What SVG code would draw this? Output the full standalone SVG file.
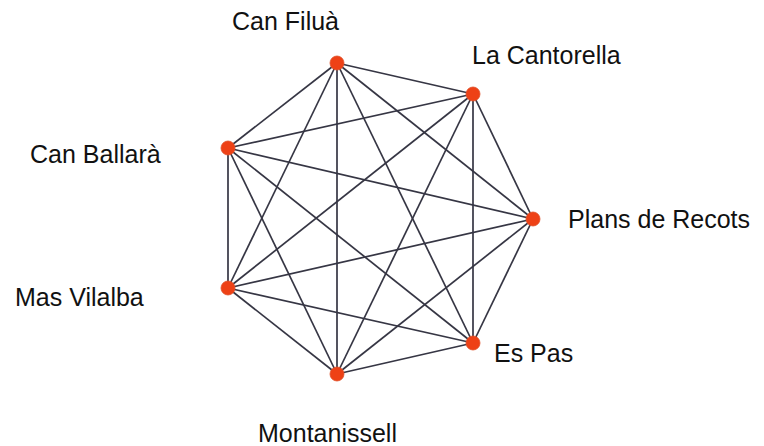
<svg xmlns="http://www.w3.org/2000/svg" width="764" height="446" viewBox="0 0 764 446">
<style>
.e{stroke:#363644;stroke-width:1.7;fill:none}
.n{fill:#ee4116;stroke:#e0502a;stroke-width:0.8}
.t{font-family:"Liberation Sans",Arial,sans-serif;font-size:25px;fill:#111}
</style>
<rect width="764" height="446" fill="#fff"/>
<g id="edges">
<line class="e" x1="337" y1="63" x2="473" y2="94"/>
<line class="e" x1="337" y1="63" x2="533" y2="219"/>
<line class="e" x1="337" y1="63" x2="473" y2="343"/>
<line class="e" x1="337" y1="63" x2="337" y2="374"/>
<line class="e" x1="337" y1="63" x2="228" y2="288"/>
<line class="e" x1="337" y1="63" x2="228" y2="148"/>
<line class="e" x1="473" y1="94" x2="533" y2="219"/>
<line class="e" x1="473" y1="94" x2="473" y2="343"/>
<line class="e" x1="473" y1="94" x2="337" y2="374"/>
<line class="e" x1="473" y1="94" x2="228" y2="288"/>
<line class="e" x1="473" y1="94" x2="228" y2="148"/>
<line class="e" x1="533" y1="219" x2="473" y2="343"/>
<line class="e" x1="533" y1="219" x2="337" y2="374"/>
<line class="e" x1="533" y1="219" x2="228" y2="288"/>
<line class="e" x1="533" y1="219" x2="228" y2="148"/>
<line class="e" x1="473" y1="343" x2="337" y2="374"/>
<line class="e" x1="473" y1="343" x2="228" y2="288"/>
<line class="e" x1="473" y1="343" x2="228" y2="148"/>
<line class="e" x1="337" y1="374" x2="228" y2="288"/>
<line class="e" x1="337" y1="374" x2="228" y2="148"/>
<line class="e" x1="228" y1="288" x2="228" y2="148"/>
</g>
<g id="can-filua"><circle class="n" cx="337" cy="63" r="7"/><text class="t" x="232" y="30">Can Filuà</text></g>
<g id="la-cantorella"><circle class="n" cx="473" cy="94" r="7"/><text class="t" x="472" y="64">La Cantorella</text></g>
<g id="plans-de-recots"><circle class="n" cx="533" cy="219" r="7"/><text class="t" x="568" y="228">Plans de Recots</text></g>
<g id="es-pas"><circle class="n" cx="473" cy="343" r="7"/><text class="t" x="494" y="362">Es Pas</text></g>
<g id="montanissell"><circle class="n" cx="337" cy="374" r="7"/><text class="t" x="258" y="442">Montanissell</text></g>
<g id="mas-vilalba"><circle class="n" cx="228" cy="288" r="7"/><text class="t" x="15" y="306">Mas Vilalba</text></g>
<g id="can-ballara"><circle class="n" cx="228" cy="148" r="7"/><text class="t" x="30" y="163">Can Ballarà</text></g>
</svg>
